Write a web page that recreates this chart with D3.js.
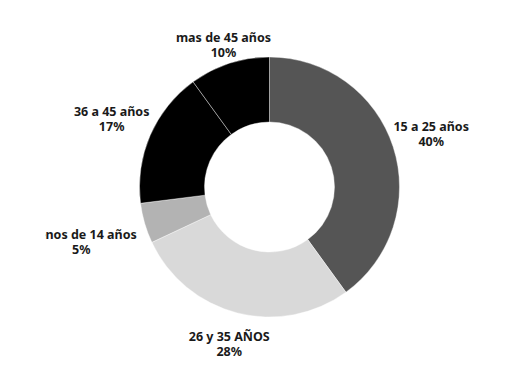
<!DOCTYPE html>
<html>
<head>
<meta charset="utf-8">
<script src="https://cdn.jsdelivr.net/npm/d3@7"></script>
<style>
  body { margin: 0; background: #fff; }
  text { font-family: "Noto Sans", sans-serif; font-weight: 700; font-size: 12.5px; fill: #1a1a1a; }
</style>
</head>
<body>
<div id="chart"></div>
<script>
// ******* Data *******
var categories = ["15 a 25 años", "26 y 35 AÑOS", "menos de 14 años", "36 a 45 años", "mas de 45 años"];
var values = [40, 28, 5, 17, 10];
var colour = ["#555555", "#d9d9d9", "#b3b3b3", "#000000", "#000000"];
var labelRadius = [170, 162, 196, 172, 149];

// ******* Chart set up *******
var w = 526;
var h = 378;
var cx = 269.5, cy = 187;
var outerR = 130, innerR = 65;

var svg = d3.select("#chart").append("svg").attr("width", w).attr("height", h);

// left part of the "menos" label is cut off in the original
var clipRect = svg.append("clipPath").attr("id", "cut")
  .append("rect").attr("x", 0).attr("y", 0).attr("width", w).attr("height", h);

var pie = d3.pie().sort(null).value(d => d);
var arcs = pie(values);
var arc = d3.arc().innerRadius(innerR).outerRadius(outerR);

var g = svg.append("g").attr("transform", `translate(${cx},${cy})`);

g.selectAll(".slice")
  .data(arcs)
  .enter()
  .append("path")
  .attr("class", "slice")
  .attr("d", arc)
  .style("fill", (d, i) => colour[i])
  .style("stroke", "#fff")
  .style("stroke-width", 0.4);

// ******* Labels *******
var labels = svg.append("g")
  .attr("clip-path", "url(#cut)")
  .selectAll(".lbl")
  .data(arcs)
  .enter()
  .append("text")
  .attr("class", "lbl")
  .attr("text-anchor", "middle")
  .attr("transform", (d, i) => {
    var a = (d.startAngle + d.endAngle) / 2;
    var x = cx + Math.sin(a) * labelRadius[i];
    var y = cy - Math.cos(a) * labelRadius[i];
    return `translate(${x},${y})`;
  });

var names = labels.append("tspan")
  .attr("x", 0)
  .attr("y", -3)
  .text((d, i) => categories[i]);

labels.append("tspan")
  .attr("x", 0)
  .attr("y", 12)
  .text(d => d.data + "%");

// cut the clip at the "n" of "menos"
var menos = names.nodes()[2];
var a2 = (arcs[2].startAngle + arcs[2].endAngle) / 2;
var startX = cx + Math.sin(a2) * labelRadius[2] + menos.getStartPositionOfChar(2).x;
clipRect.attr("x", startX - 0.5);
</script>
</body>
</html>
